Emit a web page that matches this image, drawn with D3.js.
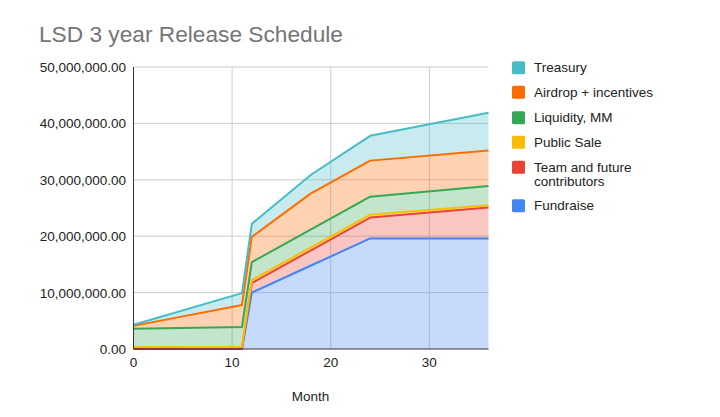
<!DOCTYPE html>
<html>
<head>
<meta charset="utf-8">
<script src="https://cdn.jsdelivr.net/npm/d3@7"></script>
<style>
  html, body { margin: 0; padding: 0; background: #fff; }
  svg { display: block; font-family: "Liberation Sans", Arial, sans-serif; }
</style>
</head>
<body>
<svg id="chart" width="720" height="417"></svg>
<script>
// ---- Data (values in tokens) ----
const months = [0, 11, 12, 18, 24, 36];
const fundraise = [0, 0, 10000000, 14800000, 19600000, 19600000];
const team = [50000, 100000, 1700000, 2700000, 3700000, 5500000];
const publicSale = [300000, 300000, 500000, 500000, 500000, 400000];
const liquidity = [3250000, 3500000, 3200000, 3200000, 3200000, 3400000];
const airdrop = [500000, 3900000, 4500000, 6400000, 6400000, 6300000];
const treasury = [200000, 2100000, 2300000, 3300000, 4400000, 6700000];

const seriesNames = ["Fundraise", "Team and future contributors", "Public Sale", "Liquidity, MM", "Airdrop + incentives", "Treasury"];
const seriesColors = ["#4285F4", "#EA4335", "#FBBC04", "#34A853", "#FF6D01", "#46BDC6"];
const yTicks = [0, 10000000, 20000000, 30000000, 40000000, 50000000];
const xTicks = [0, 10, 20, 30];
const title = "LSD 3 year Release Schedule";
const xTitle = "Month";

// ---- Build table ----
const seriesValues = [fundraise, team, publicSale, liquidity, airdrop, treasury];
const keys = seriesNames;
const table = months.map((m, i) => {
  const row = { month: m };
  keys.forEach((k, j) => { row[k] = seriesValues[j][i]; });
  return row;
});
const stacked = d3.stack().keys(keys)(table);

const svg = d3.select("#chart");
const margin = { left: 133.5, right: 488.5, top: 67, bottom: 349 };

const x = d3.scaleLinear().domain([0, 36]).range([margin.left, margin.right]);
const y = d3.scaleLinear().domain([0, 50000000]).range([margin.bottom, margin.top]);

// Title
svg.append("text")
  .attr("x", 39).attr("y", 42)
  .attr("font-size", 22.7)
  .attr("fill", "#757575")
  .text(title);

// Gridlines
const grid = svg.append("g");
grid.selectAll("line.h").data(yTicks.filter(d => d > 0)).join("line")
  .attr("x1", margin.left).attr("x2", margin.right)
  .attr("y1", d => y(d)).attr("y2", d => y(d))
  .attr("stroke", "#cccccc").attr("stroke-width", 1);
grid.selectAll("line.v").data(xTicks.filter(d => d > 0)).join("line")
  .attr("x1", d => x(d)).attr("x2", d => x(d))
  .attr("y1", margin.top).attr("y2", margin.bottom)
  .attr("stroke", "#cccccc").attr("stroke-width", 1);

// Areas
const area = d3.area()
  .x(d => x(d.data.month))
  .y0(d => y(d[0]))
  .y1(d => y(d[1]));
svg.append("g").selectAll("path").data(stacked).join("path")
  .attr("d", area)
  .attr("fill", (d, i) => seriesColors[i])
  .attr("fill-opacity", 0.3);

// Lines
const line = d3.line()
  .x(d => x(d.data.month))
  .y(d => y(d[1]));
svg.append("g").selectAll("path").data(stacked).join("path")
  .attr("d", line)
  .attr("fill", "none")
  .attr("stroke", (d, i) => seriesColors[i])
  .attr("stroke-width", 2)
  .attr("stroke-linejoin", "round");

// Axes lines
svg.append("line")
  .attr("x1", margin.left).attr("x2", margin.left)
  .attr("y1", margin.top).attr("y2", margin.bottom)
  .attr("stroke", "#333").attr("stroke-width", 1);
svg.append("line")
  .attr("x1", margin.left).attr("x2", margin.right)
  .attr("y1", margin.bottom).attr("y2", margin.bottom)
  .attr("stroke", "#333").attr("stroke-width", 1);

// Y tick labels
const fmt = d3.format(",.2f");
svg.append("g").selectAll("text").data(yTicks).join("text")
  .attr("x", 126).attr("y", d => y(d) + 5)
  .attr("text-anchor", "end")
  .attr("font-size", 13.5)
  .attr("fill", "#222")
  .text(d => fmt(d));

// X tick labels
svg.append("g").selectAll("text").data(xTicks).join("text")
  .attr("x", d => x(d)).attr("y", 367)
  .attr("text-anchor", "middle")
  .attr("font-size", 13.5)
  .attr("fill", "#222")
  .text(d => d);

// X title
svg.append("text")
  .attr("x", 310.5).attr("y", 401)
  .attr("text-anchor", "middle")
  .attr("font-size", 13.5)
  .attr("fill", "#222")
  .text(xTitle);

// Legend (top series first)
const legendRows = [
  { i: 5, lines: ["Treasury"], cy: 67.7 },
  { i: 4, lines: ["Airdrop + incentives"], cy: 92.3 },
  { i: 3, lines: ["Liquidity, MM"], cy: 117.7 },
  { i: 2, lines: ["Public Sale"], cy: 142.3 },
  { i: 1, lines: ["Team and future", "contributors"], cy: 167.3 },
  { i: 0, lines: ["Fundraise"], cy: 205.7 }
];
const lg = svg.append("g");
legendRows.forEach(r => {
  lg.append("rect")
    .attr("x", 512).attr("y", r.cy - 6.5)
    .attr("width", 13).attr("height", 13)
    .attr("rx", 1.5)
    .attr("fill", seriesColors[r.i]);
  r.lines.forEach((t, k) => {
    lg.append("text")
      .attr("x", 534).attr("y", r.cy + 4.7 + k * 14)
      .attr("font-size", 13.5)
      .attr("fill", "#222")
      .text(t);
  });
});
</script>
</body>
</html>
